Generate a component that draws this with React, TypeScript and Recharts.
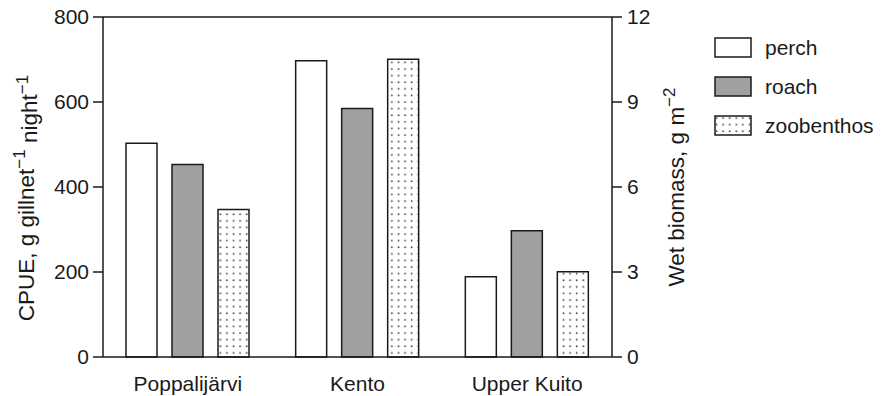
import React from 'react';
import { BarChart, Bar, XAxis, YAxis, ReferenceLine } from 'recharts';

const categories = ['Poppalijärvi', 'Kento', 'Upper Kuito'];
const perch = [503, 697, 189];
const roach = [453, 585, 297];
const zoobenthos = [5.21, 10.51, 3.01];
const leftTicks = [0, 200, 400, 600, 800];
const rightTicks = [0, 3, 6, 9, 12];
const seriesNames = ['perch', 'roach', 'zoobenthos'];

const data = categories.map((c, i) => ({
  name: c,
  perch: perch[i],
  roach: roach[i],
  zoobenthos: zoobenthos[i],
}));

const FONT = '"Liberation Sans", Arial, Helvetica, sans-serif';
const INK = '#1a1a1a';
const FS = 21;
const LFS = 22.5;
const SUP = 17;

const LeftLabel = () => (
  <text
    x={34}
    y={198}
    transform="rotate(-90, 34, 198)"
    textAnchor="middle"
    fontSize={LFS}
    fontFamily={FONT}
    fill={INK}
  >
    <tspan>CPUE, g gillnet</tspan>
    <tspan dy="-0.55em" fontSize={SUP}>−1</tspan>
    <tspan dy="0.55em"> night</tspan>
    <tspan dy="-0.55em" fontSize={SUP}>−1</tspan>
  </text>
);

const RightLabel = () => (
  <text
    x={684}
    y={187}
    transform="rotate(-90, 684, 187)"
    textAnchor="middle"
    fontSize={LFS}
    fontFamily={FONT}
    fill={INK}
  >
    <tspan>Wet biomass, g m</tspan>
    <tspan dy="-0.55em" fontSize={SUP}>−2</tspan>
  </text>
);

const fills: Record<string, string> = {
  perch: '#ffffff',
  roach: '#a0a0a0',
  zoobenthos: 'url(#dotsLegend)',
};

const LegendBox = () => (
  <div style={{ position: 'absolute', left: 714, top: 28, width: 170, fontFamily: FONT, fontSize: FS, color: INK }}>
    {seriesNames.map((k) => (
      <div key={k} style={{ display: 'flex', alignItems: 'center', height: 39 }}>
        <svg width={38} height={21} style={{ display: 'block' }}>
          <defs>
            <pattern id="dotsLegend" width="6.6" height="6.6" patternUnits="userSpaceOnUse">
              <rect width="6.6" height="6.6" fill="#fff" />
              <circle cx="2.5" cy="3" r="0.9" fill="#444" />
            </pattern>
          </defs>
          <rect x={1} y={1} width={36} height={19} fill={fills[k]} stroke={INK} strokeWidth={1.5} />
        </svg>
        <span style={{ marginLeft: 13, lineHeight: '21px' }}>{k}</span>
      </div>
    ))}
  </div>
);

export default function App() {
  return (
    <div style={{ position: 'absolute', left: 0, top: 0, width: 887, height: 396, background: '#fff' }}>
      <BarChart
        width={887}
        height={396}
        data={data}
        margin={{ top: 17, right: 215, bottom: 9, left: 27 }}
        barSize={31}
        barGap={15}
      >
        <defs>
          <pattern id="dots" width="6.6" height="6.6" patternUnits="userSpaceOnUse">
            <rect width="6.6" height="6.6" fill="#fff" />
            <circle cx="2.5" cy="3" r="0.9" fill="#444" />
          </pattern>
        </defs>
        <XAxis
          dataKey="name"
          axisLine={{ stroke: INK, strokeWidth: 1.5 }}
          tickLine={false}
          tickSize={0}
          tickMargin={19}
          tick={{ fill: INK, fontSize: FS, fontFamily: FONT }}
          height={30}
        />
        <YAxis
          yAxisId="left"
          domain={[0, 800]}
          ticks={leftTicks}
          width={76}
          axisLine={{ stroke: INK, strokeWidth: 1.5 }}
          tickLine={{ stroke: INK, strokeWidth: 1.5 }}
          tickSize={10}
          tickMargin={4}
          tick={{ fill: INK, fontSize: FS, fontFamily: FONT }}
          label={<LeftLabel />}
        />
        <YAxis
          yAxisId="right"
          orientation="right"
          domain={[0, 12]}
          ticks={rightTicks}
          width={60}
          axisLine={{ stroke: INK, strokeWidth: 1.5 }}
          tickLine={{ stroke: INK, strokeWidth: 1.5 }}
          tickSize={10}
          tickMargin={5}
          tick={{ fill: INK, fontSize: FS, fontFamily: FONT }}
          label={<RightLabel />}
        />
        <ReferenceLine yAxisId="left" y={800} stroke={INK} strokeWidth={1.5} />
        <Bar yAxisId="left" dataKey="perch" fill="#ffffff" stroke={INK} strokeWidth={1.5} isAnimationActive={false} />
        <Bar yAxisId="left" dataKey="roach" fill="#a0a0a0" stroke={INK} strokeWidth={1.5} isAnimationActive={false} />
        <Bar yAxisId="right" dataKey="zoobenthos" fill="url(#dots)" stroke={INK} strokeWidth={1.5} isAnimationActive={false} />
      </BarChart>
      <LegendBox />
    </div>
  );
}
